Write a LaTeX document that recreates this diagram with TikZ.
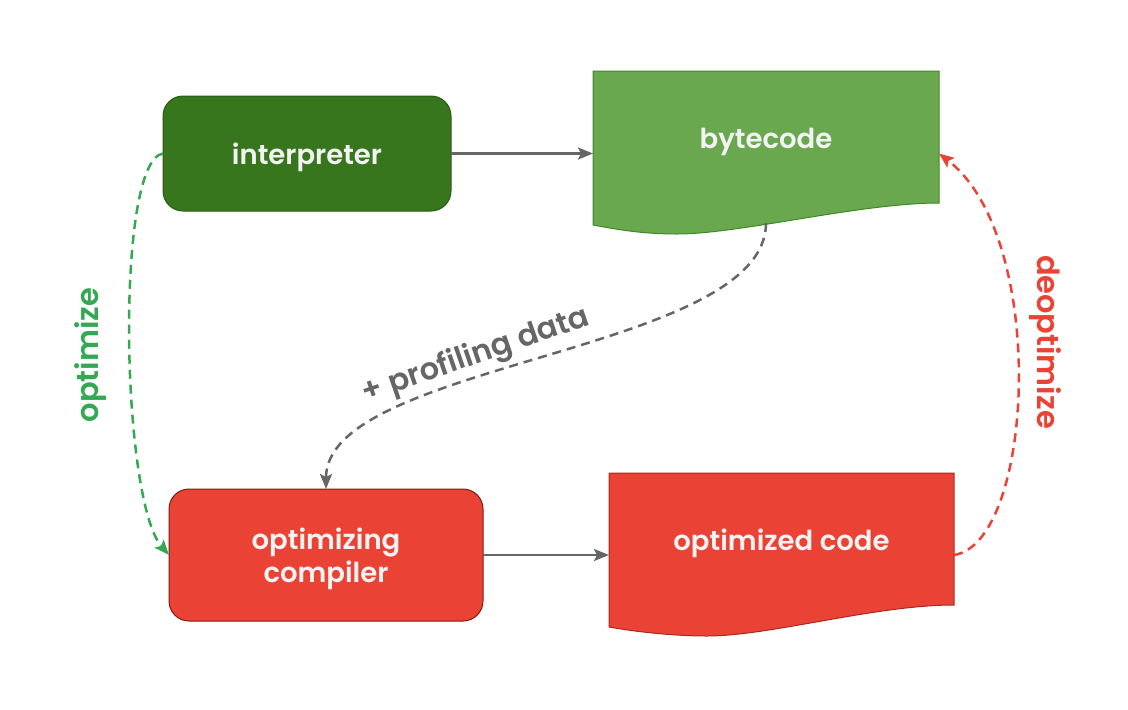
\documentclass[tikz,border=0pt]{standalone}
\usepackage{fontspec}
\setmainfont{Poppins}[BoldFont={* SemiBold}]
\usetikzlibrary{arrows.meta,calc,backgrounds}
\definecolor{dgreen}{HTML}{38761D}
\definecolor{dgreenb}{HTML}{2A5A16}
\definecolor{lgreen}{HTML}{6AA84F}
\definecolor{lgreenb}{HTML}{3F8A26}
\definecolor{cred}{HTML}{EA4335}
\definecolor{credb}{HTML}{7A1C12}
\definecolor{credb2}{HTML}{A82A1E}
\definecolor{cgray}{HTML}{666666}
\definecolor{cgreen}{HTML}{34A853}
\definecolor{ctext}{HTML}{F3F3F3}
\begin{document}
\begin{tikzpicture}[x=1pt,y=-1pt,
  lbl/.style={font=\bfseries\fontsize{27.5}{33}\selectfont, text=ctext, align=center, inner sep=0pt},
  elbl/.style={font=\bfseries\fontsize{30.5}{36}\selectfont, inner sep=0pt},
  rbox/.style={rounded corners=20pt, line width=1pt, inner sep=0pt, outer sep=0pt},
  docbox/.style={inner sep=0pt, outer sep=0pt},
  docshape/.style={line width=1pt},
  conn/.style={draw=cgray, line width=2.5pt, -{Stealth[length=15pt,width=12pt,inset=3pt]}},
  dashconn/.style={line width=2.5pt, dash pattern=on 9pt off 6pt, -{Stealth[length=15pt,width=12pt,inset=3pt]}},
]
\useasboundingbox (0,0) rectangle (1128,710);

% shape nodes
\node[rbox, fill=dgreen, draw=dgreenb, minimum width=288pt, minimum height=115pt] (interp) at (307,153.5) {};
\node[docbox, minimum width=346pt, minimum height=132pt] (bc) at (766,137) {};
\node[rbox, fill=cred, draw=credb, minimum width=314pt, minimum height=132pt] (comp) at (326,555) {};
\node[docbox, minimum width=345pt, minimum height=132pt] (oc) at (781.5,539) {};

\path[docshape, fill=lgreen, draw=lgreenb] (bc.north west) -- (bc.north east) -- (bc.south east)
  .. controls +(-79,0) and +(63,0) .. ($(bc.south west)+(84,31)$)
  .. controls +(-37,0) and +(22,4) .. ($(bc.south west)+(0,22)$) -- cycle;
\path[docshape, fill=cred, draw=credb2] (oc.north west) -- (oc.north east) -- (oc.south east)
  .. controls +(-79,0) and +(63,0) .. ($(oc.south west)+(98,31)$)
  .. controls +(-37,0) and +(22,4) .. ($(oc.south west)+(0,22)$) -- cycle;

% texts
\node[lbl] (interpt) at ([yshift=-4pt]interp.center) {interpreter};
\node[lbl] (bct) at ([yshift=-5pt]bc.center) {bytecode};
\node[lbl] (compt) at ([yshift=-4pt]comp.center) {optimizing\\compiler};
\node[lbl] (oct) at ([yshift=-4pt]oc.center) {optimized code};

\coordinate (bcbot) at ($(bc.south)+(0,20)$);

% connectors
\draw[conn] (interp.east) -- (interp.east -| bc.west);
\draw[conn] (comp.east) -- (comp.east -| oc.west);
\draw[dashconn, draw=cgray] (bcbot) .. controls +(0,130) and +(0,-127) .. (comp.north);
\draw[dashconn, draw=cgreen] (interp.west) .. controls +(-48,7) and +(-48,-55) .. (comp.west);
\draw[dashconn, draw=cred] (oc.east |- comp.east) .. controls +(80,-12) and +(110,85) .. (bc.east |- interp.east);

% labels
\node[elbl, rotate=90, text=cgreen] (optl) at (91,355) {optimize};
\node[elbl, rotate=-90, text=cred] (deoptl) at (1045,342) {deoptimize};
\node[elbl, rotate=19, text=cgray] (profl) at (476,356) {+ profiling data};
\end{tikzpicture}
\end{document}
